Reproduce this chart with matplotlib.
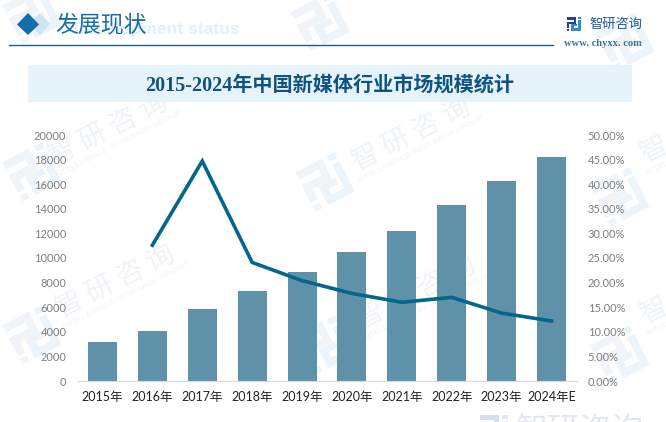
import matplotlib
matplotlib.use('Agg')
import matplotlib.pyplot as plt
import matplotlib.transforms as tr
from matplotlib.patches import Polygon, Rectangle

years = ['2015年', '2016年', '2017年', '2018年', '2019年', '2020年', '2021年', '2022年', '2023年', '2024年E']
market = [3170, 4065, 5850, 7320, 8860, 10490, 12200, 14300, 16260, 18210]
growth = [None, 27.6, 44.7, 24.1, 20.4, 17.8, 16.0, 17.0, 13.8, 12.2]

W, H = 666, 422
CJK = 'Noto Sans CJK SC'
sans = ['Lato', CJK]
serif = ['Liberation Serif', CJK]

fig = plt.figure(figsize=(W / 100, H / 100), dpi=100)

# background layer in pixel coordinates
bg = fig.add_axes([0, 0, 1, 1], zorder=0)
bg.set_xlim(0, W)
bg.set_ylim(H, 0)
bg.axis('off')

WM = '#f0f3f7'
WM2 = '#ebf4fa'


def logo_mark(ax, x, y, s, c1, c2, rot=0, z=1):
    # company mark, built from bars
    t = tr.Affine2D().scale(s).rotate_deg(rot).translate(x, y) + ax.transData
    left = [(-1, -1, 1.35, .36), (0, -1, .35, 1.0), (-1, -.34, 1.35, .36), (-1, -.34, .36, .9), (-1, .72, .36, .28)]
    right = [(.6, -1, .4, .28), (.65, -.55, .35, 1.2), (-.35, .64, 1.35, .36), (-.35, .05, .36, .95), (-.35, .05, .85, .3)]
    for bx, by, bw, bh in left:
        ax.add_patch(Rectangle((bx, by), bw, bh, fc=c1, ec='none', transform=t, zorder=z))
    for bx, by, bw, bh in right:
        ax.add_patch(Rectangle((bx, by), bw, bh, fc=c2, ec='none', transform=t, zorder=z))


# watermarks
for x, y in [(108, 130), (411, 135), (115, 282), (416, 293), (700, 127), (700, 288)]:
    bg.text(x, y, '智 研 咨 询', family=CJK, fontsize=20, color=WM, rotation=27, ha='center', va='center',
            rotation_mode='anchor', zorder=1)
    bg.text(x + 10, y + 15, 'INTELLIGENCE RESEARCH GROUP', family='Liberation Sans', fontsize=6, color=WM,
            rotation=27, ha='center', va='center', rotation_mode='anchor', zorder=1)
for x, y in [(32, 172), (325, 182), (32, 335), (620, 197), (620, 355), (325, 345), (320, 22), (32, 15), (625, 42)]:
    logo_mark(bg, x, y, 22, WM, WM2, rot=-27)
bg.text(516, 415, '智研咨询', family=CJK, fontsize=23, color='#e3e7ec', va='top', zorder=1)
logo_mark(bg, 494, 429, 14, '#d5dfec', '#d9ebf7')

# header
bg.add_patch(Polygon([(40, 13), (50, 24), (40, 35), (29, 24)], fc='#cfe3f1', ec='none', zorder=2))
bg.add_patch(Polygon([(28, 13), (39, 24.5), (28, 35), (17, 24.5)], fc='#136ea8', ec='none', zorder=3))
bg.text(240, 29.5, 'Development status', family='Liberation Sans', weight='bold', fontsize=12.5,
        color='#e3f0f9', ha='right', va='center', zorder=2)
bg.text(55, 25.5, '发展现状', family=serif, fontsize=16.5, color='#1a6ea5', va='center', zorder=3)
bg.plot([9, 553], [45, 45], color='#1a5f8f', lw=1, zorder=3)
logo_mark(bg, 573.5, 24, 7, '#2b3f8f', '#2b8fd0', z=3)
bg.text(589, 24.5, '智研咨询', family=CJK, fontsize=9.5, color='#1a5f8f', va='center', zorder=3)
bg.text(564, 44, 'www. chyxx. com', family='Liberation Serif', weight='bold', fontsize=7.6,
        color='#3f7499', va='center', zorder=3)

# title band
bg.add_patch(Rectangle((28, 65), 604, 37, fc='#e6f3fb', ec='none', alpha=.95, zorder=2))
bg.text(330, 86, '2015-2024年中国新媒体行业市场规模统计', family=serif, weight='bold', fontsize=14.5,
        color='#0f5480', ha='center', va='center', zorder=3)

# chart
ax = fig.add_axes([77.5 / W, 1 - 381 / H, 499 / W, 246 / H], zorder=2)
ax.patch.set_alpha(0)
xs = list(range(len(years)))
ax.bar(xs, market, width=0.58, color='#5f92a9', zorder=2)
ax.set_xlim(-.5, 9.5)
ax.set_ylim(0, 20000)
ax.set_yticks(range(0, 20001, 2000))
ax.set_xticks(xs)
ax.set_xticklabels(years, family=sans, fontsize=9, color='#222222')
ax.tick_params(axis='x', length=0, pad=7)
ax.tick_params(axis='y', length=0, pad=8, labelcolor='#7f7f7f', labelsize=8)
for lab in ax.get_yticklabels():
    lab.set_family(sans)
for s in ['top', 'left', 'right']:
    ax.spines[s].set_visible(False)
ax.spines['bottom'].set_color('#d9d9d9')

ax2 = ax.twinx()
ax2.patch.set_alpha(0)
ax2.plot(xs[1:], growth[1:], color='#04668a', lw=2.6, solid_joinstyle='miter', zorder=3)
ax2.set_ylim(0, 50)
ax2.set_yticks(range(0, 51, 5))
ax2.set_yticklabels([f'{v:.2f}%' for v in range(0, 51, 5)], family=sans, fontsize=8, color='#7f7f7f')
ax2.tick_params(axis='y', length=0, pad=8)
for s in ['top', 'left', 'right', 'bottom']:
    ax2.spines[s].set_visible(False)

fig.savefig('out.png', dpi=100)
